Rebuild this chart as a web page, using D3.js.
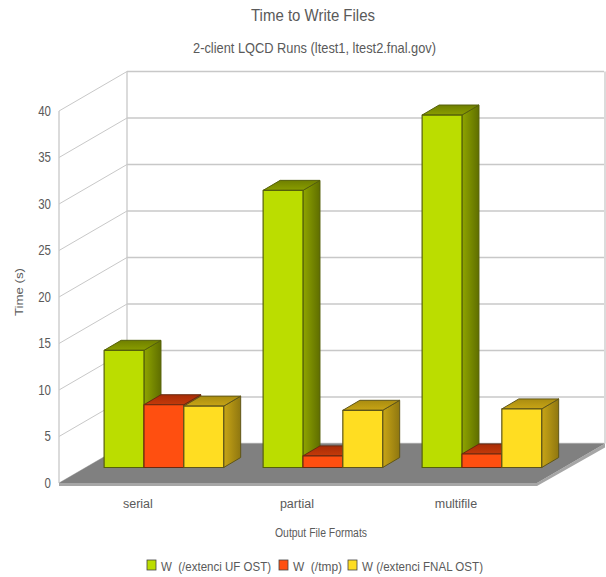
<!DOCTYPE html>
<html>
<head>
<meta charset="utf-8">
<title>Time to Write Files</title>
<script src="https://cdn.jsdelivr.net/npm/d3@7/dist/d3.min.js"></script>
<style>
html, body { margin: 0; padding: 0; background: #fff; }
svg { display: block; }
text { font-family: "Liberation Sans", Arial, sans-serif; fill: #5a5a5a; }
</style>
</head>
<body>
<svg id="chart" width="606" height="577"></svg>
<script>
const categories = ["serial", "partial", "multifile"];
const seriesNames = ["W  (/extenci UF OST)", "W  (/tmp)", "W (/extenci FNAL OST)"];
const ufValues = [12.6, 29.8, 37.9];
const tmpValues = [6.75, 1.25, 1.45];
const fnalValues = [6.6, 6.15, 6.3];
const yTicks = [0, 5, 10, 15, 20, 25, 30, 35, 40];
const seriesValues = [ufValues, tmpValues, fnalValues];

// Front face colour, then the darker tones of the top and side faces.
const palette = [
  { front: "#bbdd00", topA: "#6f7f00", topB: "#8a9e00", sideA: "#8fa500", sideB: "#5f6e00", edge: "#55600a" },
  { front: "#ff4f10", topA: "#a82c06", topB: "#c43a0a", sideA: "#c43a0a", sideB: "#8a2604", edge: "#6a2a10" },
  { front: "#ffdd22", topA: "#a98c10", topB: "#c8a516", sideA: "#c8a516", sideB: "#8f7710", edge: "#5f5518" }
];

const svg = d3.select("#chart");
const gridColor = "#c8c8c8";

// Plot box: front plane of the left wall, and how far the back wall is shifted.
const plotLeft = 59, floorFrontRight = 537;
const wallDx = 68, wallDy = -39.5;
const y = d3.scaleLinear().domain([0, 40]).range([483, 111]);

// Bars sit part way into the box and have their own small depth.
const barBaseDx = 45, barBaseDy = -15.5, barDx = 17, barDy = -10;
const x = d3.scaleBand().domain(categories).range([84.4, 561.4]).paddingInner(0.248).paddingOuter(0.124);
const xSeries = d3.scaleBand().domain(d3.range(seriesNames.length)).range([0, x.bandwidth()]);

const defs = svg.append("defs");
palette.forEach((c, i) => {
  const side = defs.append("linearGradient").attr("id", `side${i}`).attr("x1", 0).attr("x2", 1).attr("y1", 0).attr("y2", 0);
  side.append("stop").attr("offset", 0).attr("stop-color", c.sideA);
  side.append("stop").attr("offset", 1).attr("stop-color", c.sideB);
  const top = defs.append("linearGradient").attr("id", `top${i}`).attr("x1", 0).attr("x2", 0).attr("y1", 0).attr("y2", 1);
  top.append("stop").attr("offset", 0).attr("stop-color", c.topA);
  top.append("stop").attr("offset", 1).attr("stop-color", c.topB);
});

// Back wall and left wall grid.
const grid = svg.append("g").attr("fill", "none").attr("stroke", gridColor);
yTicks.forEach(t => {
  const yy = y(t);
  grid.append("line").attr("x1", plotLeft).attr("y1", yy).attr("x2", plotLeft + wallDx).attr("y2", yy + wallDy).attr("stroke-width", 1);
  grid.append("line").attr("x1", plotLeft + wallDx).attr("y1", yy + wallDy)
    .attr("x2", floorFrontRight + wallDx - 1).attr("y2", yy + wallDy).attr("stroke-width", 1.3);
});
grid.append("line").attr("x1", plotLeft).attr("y1", y(40)).attr("x2", plotLeft).attr("y2", y(0)).attr("stroke-width", 1.3);
grid.append("line").attr("x1", plotLeft + wallDx).attr("y1", y(40) + wallDy).attr("x2", plotLeft + wallDx).attr("y2", y(0) + wallDy).attr("stroke-width", 1.3);
grid.append("line").attr("x1", floorFrontRight + wallDx).attr("y1", y(40) + wallDy).attr("x2", floorFrontRight + wallDx).attr("y2", y(0) + wallDy).attr("stroke-width", 1.3);

// Floor slab: a lighter lip under a darker top surface.
const slab = 3;
const poly = pts => pts.map(p => p.join(",")).join(" ");
svg.append("polygon").attr("fill", "#a6a6a6").attr("points", poly([
  [plotLeft, y(0)], [floorFrontRight, y(0)], [floorFrontRight + wallDx, y(0) + wallDy],
  [floorFrontRight + wallDx, y(0) + wallDy + slab + 1], [floorFrontRight, y(0) + slab], [plotLeft, y(0) + slab]
]));
svg.append("polygon").attr("fill", "#808080").attr("points", poly([
  [plotLeft, y(0)], [plotLeft + wallDx, y(0) + wallDy], [floorFrontRight + wallDx, y(0) + wallDy], [floorFrontRight, y(0)]
]));

// Bars, each with side, top and front faces.
const barData = categories.flatMap((cat, c) =>
  seriesNames.map((_, s) => ({ cat, s, value: seriesValues[s][c] })));

const bars = svg.append("g").selectAll("g").data(barData).join("g").attr("stroke-linejoin", "round");
const geom = d => {
  const x0 = x(d.cat) + xSeries(d.s);
  const w = xSeries.bandwidth();
  const base = y(0) + barBaseDy;
  const top = y(d.value) + barBaseDy;
  return { x0, w, base, top };
};
bars.append("polygon")
  .attr("fill", d => `url(#side${d.s})`)
  .attr("stroke", d => palette[d.s].edge)
  .attr("points", d => { const g = geom(d); return poly([
    [g.x0 + g.w, g.top], [g.x0 + g.w + barDx, g.top + barDy],
    [g.x0 + g.w + barDx, g.base + barDy], [g.x0 + g.w, g.base]]); });
bars.append("polygon")
  .attr("fill", d => `url(#top${d.s})`)
  .attr("stroke", d => palette[d.s].edge)
  .attr("points", d => { const g = geom(d); return poly([
    [g.x0, g.top], [g.x0 + barDx, g.top + barDy],
    [g.x0 + g.w + barDx, g.top + barDy], [g.x0 + g.w, g.top]]); });
bars.append("rect")
  .attr("fill", d => palette[d.s].front)
  .attr("stroke", d => palette[d.s].edge)
  .attr("stroke-width", 1.2)
  .attr("x", d => geom(d).x0)
  .attr("y", d => geom(d).top)
  .attr("width", d => geom(d).w)
  .attr("height", d => geom(d).base - geom(d).top);

// Axes: text only, no tick marks or domain lines. Tick numerals are set slightly condensed.
const yAxis = svg.append("g").attr("transform", "translate(51,0)")
  .call(d3.axisLeft(y).tickValues(yTicks).tickSize(0).tickPadding(0));
yAxis.select(".domain").remove();
yAxis.selectAll("text").attr("font-size", 14).attr("font-family", null)
  .attr("transform", "scale(0.82,1)").attr("dy", "0.32em");

const xAxis = svg.append("g").attr("transform", "translate(-26,496)")
  .call(d3.axisBottom(x).tickSize(0).tickPadding(3));
xAxis.select(".domain").remove();
xAxis.selectAll("text").attr("font-size", 12.5).attr("font-family", null);

// Titles.
const label = (txt, px, py, size, len) => svg.append("text")
  .attr("x", px).attr("y", py).attr("text-anchor", "middle").attr("font-size", size)
  .attr("textLength", len).attr("lengthAdjust", "spacingAndGlyphs").text(txt);
label("Time to Write Files", 313, 21, 17, 124);
label("2-client LQCD Runs (ltest1, ltest2.fnal.gov)", 314.5, 53, 14.5, 243);
label("Output File Formats", 321, 537, 12.5, 92);
svg.append("text").attr("transform", "translate(23,292) rotate(-90)")
  .attr("text-anchor", "middle").attr("font-size", 11).attr("textLength", 48)
  .attr("lengthAdjust", "spacingAndGlyphs").text("Time (s)");

// Legend swatches and names.
const legendSwatchX = [147, 279, 348];
const legendTextX = [161, 293, 362];
const legendTextW = [110, 49, 121];
const legend = svg.append("g").selectAll("g").data(seriesNames).join("g");
legend.append("rect")
  .attr("x", (d, i) => legendSwatchX[i]).attr("y", 560).attr("width", 9).attr("height", 10)
  .attr("fill", (d, i) => palette[i].front).attr("stroke", "#444").attr("stroke-width", 0.8);
legend.append("text")
  .attr("x", (d, i) => legendTextX[i]).attr("y", 571).attr("font-size", 13)
  .attr("textLength", (d, i) => legendTextW[i]).attr("lengthAdjust", "spacingAndGlyphs")
  .attr("xml:space", "preserve").style("white-space", "pre").text(d => d);
</script>
</body>
</html>
